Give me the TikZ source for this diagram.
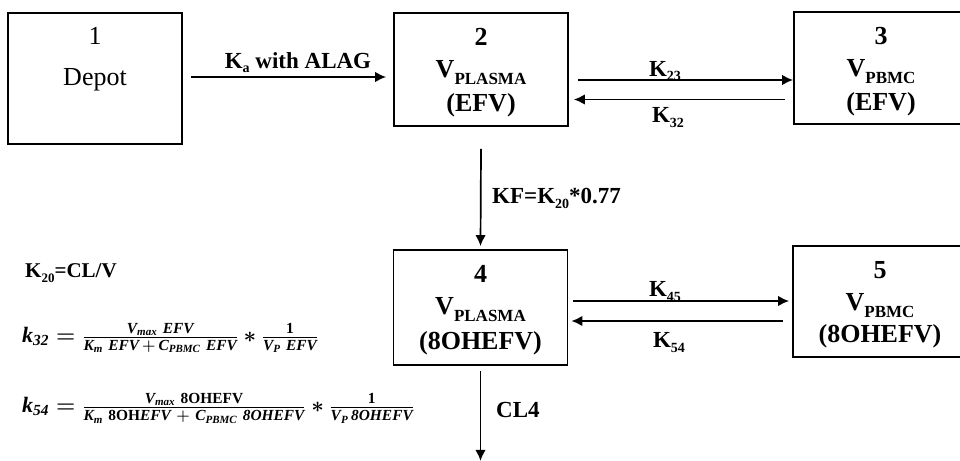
\RequirePackage{fix-cm}
\documentclass[tikz,border=0pt]{standalone}
\usepackage{amsmath}
\usepackage{fontspec}
\setmainfont{Liberation Serif}
\usetikzlibrary{arrows.meta,calc}
\newcommand{\lowsub}[1]{\raisebox{-7pt}{\fontsize{17}{17}\selectfont #1}}
\newcommand{\ksub}[1]{\raisebox{-5pt}{\fontsize{14}{14}\selectfont #1}}
\newcommand{\bi}[1]{\text{\bfseries\itshape #1}}
\newcommand{\bu}[1]{\text{\bfseries #1}}
\newcommand{\eqkA}{\mbox{\boldmath$\bi{k}_{\bi{32}} = \frac{\bi{V}_{\bi{max}}\ \bi{EFV}}{\bi{K}_{\bi{m}}\ \bi{EFV}\,+\,\bi{C}_{\bi{PBMC}}\ \bi{EFV}} \ast \frac{\bu{1}}{\bi{V}_{\bi{P}}\ \bi{EFV}}$}}
\newcommand{\eqkB}{\mbox{\boldmath$\bi{k}_{\bi{54}} = \frac{\bi{V}_{\bi{max}}\ \bu{8OHEFV}}{\bi{K}_{\bi{m}}\ \bu{8OH}\bi{EFV}\ +\ \bi{C}_{\bi{PBMC}}\ \bi{8OHEFV}} \ast \frac{\bu{1}}{\bi{V}_{\bi{P}}\,\bi{8OHEFV}}$}}
\tikzset{
  box/.style={draw, line width=1.8pt, minimum width=174pt, inner sep=0pt},
  arr/.style={line width=1.7pt, -{Latex[length=11pt,width=10.5pt]}},
  boxtxt/.style={anchor=base, inner sep=0pt, font=\fontsize{26}{26}\selectfont\bfseries},
  plaintxt/.style={anchor=base, inner sep=0pt, font=\fontsize{26}{26}\selectfont},
  lbl/.style={anchor=base, inner sep=0pt, font=\fontsize{23}{23}\selectfont\bfseries},
  smalllbl/.style={anchor=base west, inner sep=0pt, font=\fontsize{21}{21}\selectfont\bfseries},
  eqnode/.style={anchor=west, inner sep=0pt, font=\fontsize{22}{22}\selectfont}
}
\begin{document}
\begin{tikzpicture}[x=1pt,y=-1pt]
\useasboundingbox (0,0) rectangle (960,460);
% boxes
\node[box, minimum height=131pt] (b1) at (95,78.5) {};
\node[box, minimum height=113pt] (b2) at (481,69.5) {};
\node[box, minimum height=112pt] (b3) at (881,68) {};
\node[box, minimum height=115pt] (b4) at (480.5,307.5) {};
\node[box, minimum height=111pt] (b5) at (880,301.5) {};
% box texts
\node[plaintxt] (t1a) at ([yshift=-32pt]b1.north) {1};
\node[plaintxt] (t1b) at ([yshift=-73pt]b1.north) {Depot};
\node[boxtxt] (t2a) at ([yshift=-33pt]b2.north) {2};
\node[boxtxt] (t2b) at ([yshift=-65.5pt]b2.north) {V\lowsub{PLASMA}};
\node[boxtxt] (t2c) at ([yshift=-99.5pt]b2.north) {(EFV)};
\node[boxtxt] (t3a) at ([yshift=-33pt]b3.north) {3};
\node[boxtxt] (t3b) at ([yshift=-65.5pt]b3.north) {V\lowsub{PBMC}};
\node[boxtxt] (t3c) at ([yshift=-99.5pt]b3.north) {(EFV)};
\node[boxtxt] (t4a) at ([yshift=-33pt]b4.north) {4};
\node[boxtxt] (t4b) at ([yshift=-65.5pt]b4.north) {V\lowsub{PLASMA}};
\node[boxtxt] (t4c) at ([yshift=-100pt]b4.north) {(8OHEFV)};
\node[boxtxt] (t5a) at ([yshift=-33pt]b5.north) {5};
\node[boxtxt] (t5b) at ([yshift=-65.5pt]b5.north) {V\lowsub{PBMC}};
\node[boxtxt] (t5c) at ([yshift=-97pt]b5.north) {(8OHEFV)};
% connector end points
\coordinate (kaS) at ([xshift=8pt,yshift=1.5pt]b1.east);
\coordinate (k23S) at ([xshift=9pt,yshift=-10.5pt]b2.east);
\coordinate (k32S) at ([xshift=-8pt,yshift=-31.5pt]b3.west);
\coordinate (k45S) at ([xshift=5pt,yshift=6.5pt]b4.east);
\coordinate (k54S) at ([xshift=-9pt,yshift=-19.5pt]b5.west);
\coordinate (outE) at ([yshift=-95pt]b4.south);
% arrows
\draw[arr] (kaS) -- ([xshift=-7pt]b2.west |- kaS);
\draw[arr] (k23S) -- (b3.west |- k23S);
\draw[arr] (k32S) -- ([xshift=5pt]b2.east |- k32S);
\draw[arr] (k45S) -- ([xshift=-3pt]b5.west |- k45S);
\draw[arr] (k54S) -- ([xshift=3pt]b4.east |- k54S);
\draw[arr] ([yshift=-22pt]b2.south) -- ([yshift=3pt]b4.north);
\draw[arr] ([yshift=-5pt]b4.south) -- (outE);
% labels
\node[lbl] (lka) at (298,68) {K\ksub{a} with ALAG};
\node[lbl] (l23) at (665,76) {K\ksub{23}};
\node[lbl] (l32) at (668,122) {K\ksub{32}};
\node[lbl] (l45) at (665,296) {K\ksub{45}};
\node[lbl] (l54) at (669,347) {K\ksub{54}};
\node[lbl, anchor=base west] (lkf) at (492,203) {KF=K\ksub{20}*0.77};
\node[lbl, anchor=base west] (lcl) at (496,417) {CL4};
\node[smalllbl] (lk20) at (25,277) {K\raisebox{-5pt}{\fontsize{13}{13}\selectfont 20}=CL/V};
% formulas
\node[eqnode] (f32) at (22,338) {\eqkA};
\node[eqnode] (f54) at (22,408) {\eqkB};
\end{tikzpicture}
\end{document}
